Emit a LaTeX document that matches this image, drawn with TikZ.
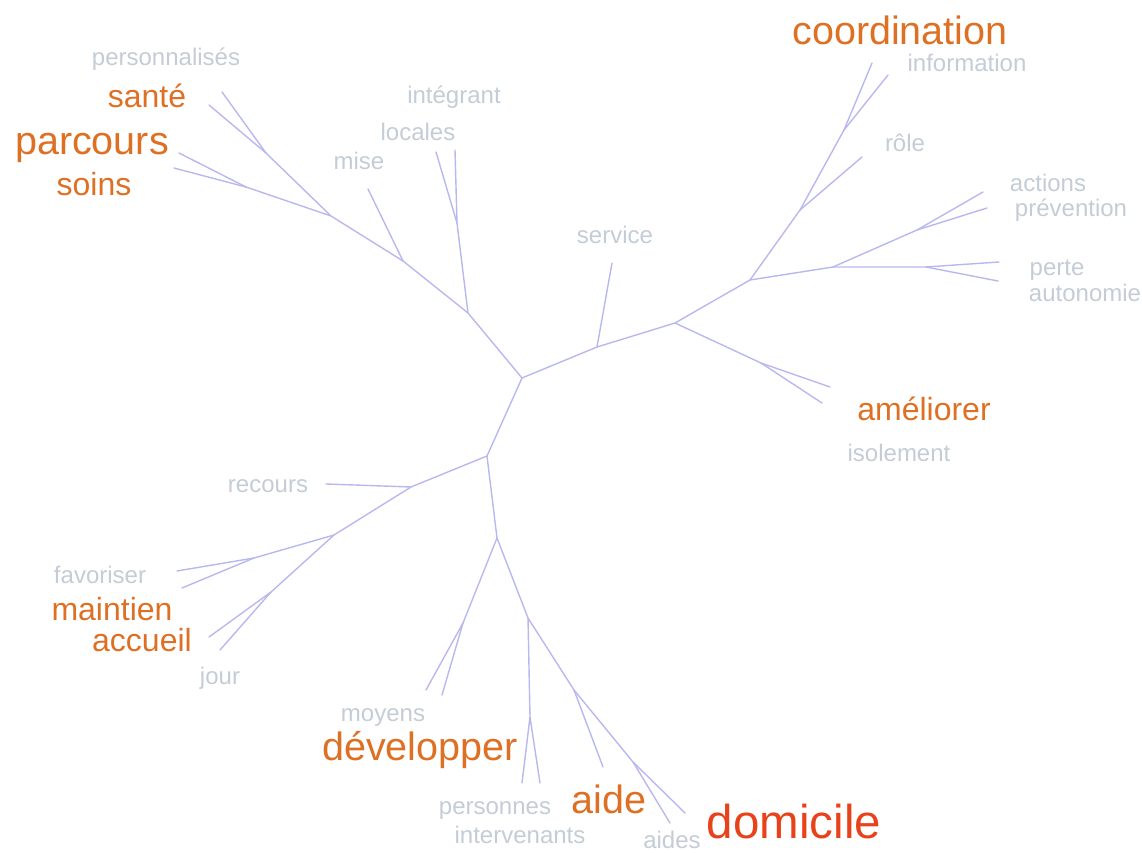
\documentclass[tikz,border=0pt]{standalone}
\usepackage{fontspec}
\setmainfont{Liberation Sans}
\definecolor{branch}{RGB}{184,184,240}
\definecolor{minor}{RGB}{196,204,214}
\definecolor{major}{RGB}{222,112,36}
\definecolor{top}{RGB}{232,66,26}
\tikzset{
  edge/.style={draw=branch, line width=1.4pt, line cap=round, line join=round},
  minorw/.style={text=minor, anchor=base, inner sep=0pt, font=\fontsize{24}{24}\selectfont},
  majorm/.style={text=major, anchor=base, inner sep=0pt, font=\fontsize{32}{32}\selectfont},
  majorl/.style={text=major, anchor=base, inner sep=0pt, font=\fontsize{39.5}{39.5}\selectfont},
  topw/.style={text=top, anchor=base, inner sep=0pt, font=\fontsize{47.5}{47.5}\selectfont}
}
\begin{document}
\begin{tikzpicture}[x=1pt,y=-1pt]
\useasboundingbox (0,0) rectangle (1142,853);
% junctions and branch ends
\coordinate (A) at (522,378);
\coordinate (B) at (468,313);
\coordinate (C) at (403,261);
\coordinate (D) at (331,216);
\coordinate (E) at (266,153);
\coordinate (e1) at (222,92);
\coordinate (e2) at (209,105);
\coordinate (F) at (246,187);
\coordinate (f1) at (179,153);
\coordinate (f2) at (174,168);
\coordinate (c1) at (368,189);
\coordinate (G) at (457,223);
\coordinate (g1) at (455,150);
\coordinate (g2) at (436,152);
\coordinate (H) at (597,347);
\coordinate (h1) at (612,263);
\coordinate (I) at (675,323);
\coordinate (Iam) at (761,363);
\coordinate (am1) at (830,387);
\coordinate (am2) at (822,403);
\coordinate (J) at (750,280);
\coordinate (K) at (800,210);
\coordinate (k1) at (862,157);
\coordinate (L) at (844,130);
\coordinate (l1) at (872,63);
\coordinate (l2) at (888,75);
\coordinate (M) at (833,267);
\coordinate (N) at (917,230);
\coordinate (n1) at (983,192);
\coordinate (n2) at (987,208);
\coordinate (O) at (926,267);
\coordinate (o1) at (999,262);
\coordinate (o2) at (998,281);
\coordinate (P) at (487,456);
\coordinate (Q) at (411,487);
\coordinate (q1) at (326,484);
\coordinate (R) at (334,535);
\coordinate (R1) at (254,558);
\coordinate (r1) at (177,571);
\coordinate (r2) at (182,588);
\coordinate (R2) at (271,592);
\coordinate (r3) at (209,637);
\coordinate (r4) at (220,650);
\coordinate (S) at (497,538);
\coordinate (S1) at (463,623);
\coordinate (s1) at (426,690);
\coordinate (s2) at (442,695);
\coordinate (T) at (528,618);
\coordinate (T1) at (530,717);
\coordinate (t1) at (522,783);
\coordinate (t2) at (540,783);
\coordinate (U) at (574,690);
\coordinate (u1) at (603,767);
\coordinate (V) at (633,762);
\coordinate (v1) at (670,823);
\coordinate (v2) at (685,813);
% edges
\draw[edge] (A) -- (B) -- (C) -- (D) -- (E) -- (e1);
\draw[edge] (E) -- (e2);
\draw[edge] (D) -- (F) -- (f1);
\draw[edge] (F) -- (f2);
\draw[edge] (C) -- (c1);
\draw[edge] (B) -- (G) -- (g1);
\draw[edge] (G) -- (g2);
\draw[edge] (A) -- (H) -- (I) -- (J) -- (K) -- (L) -- (l1);
\draw[edge] (H) -- (h1);
\draw[edge] (L) -- (l2);
\draw[edge] (K) -- (k1);
\draw[edge] (I) -- (Iam) -- (am1);
\draw[edge] (Iam) -- (am2);
\draw[edge] (J) -- (M) -- (N) -- (n1);
\draw[edge] (N) -- (n2);
\draw[edge] (M) -- (O) -- (o1);
\draw[edge] (O) -- (o2);
\draw[edge] (A) -- (P) -- (Q) -- (q1);
\draw[edge] (Q) -- (R) -- (R1) -- (r1);
\draw[edge] (R1) -- (r2);
\draw[edge] (R) -- (R2) -- (r3);
\draw[edge] (R2) -- (r4);
\draw[edge] (P) -- (S) -- (S1) -- (s1);
\draw[edge] (S1) -- (s2);
\draw[edge] (S) -- (T) -- (T1) -- (t1);
\draw[edge] (T1) -- (t2);
\draw[edge] (T) -- (U) -- (u1);
\draw[edge] (U) -- (V) -- (v1);
\draw[edge] (V) -- (v2);
% labels
\node[minorw] (personnalises) at (166,66) {personnalisés};
\node[majorm] (sante) at (147,108) {santé};
\node[majorl] (parcours) at (92,155) {parcours};
\node[majorm] (soins) at (94,196) {soins};
\node[minorw] (integrant) at (454,104) {intégrant};
\node[minorw] (locales) at (418,141) {locales};
\node[minorw] (mise) at (359,170) {mise};
\node[minorw] (service) at (615,243) {service};
\node[majorl] (coordination) at (900,45) {coordination};
\node[minorw] (information) at (967,72) {information};
\node[minorw] (role) at (905,152) {rôle};
\node[minorw] (actions) at (1048,192) {actions};
\node[minorw] (prevention) at (1071,216) {prévention};
\node[minorw] (perte) at (1057,275) {perte};
\node[minorw] (autonomie) at (1085,301) {autonomie};
\node[majorm] (ameliorer) at (924,420) {améliorer};
\node[minorw] (isolement) at (899,461) {isolement};
\node[minorw] (recours) at (268,492) {recours};
\node[minorw] (favoriser) at (100,583) {favoriser};
\node[majorm] (maintien) at (112,620) {maintien};
\node[majorm] (accueil) at (142,651) {accueil};
\node[minorw] (jour) at (220,684) {jour};
\node[minorw] (moyens) at (383,721) {moyens};
\node[majorl] (developper) at (420,760) {développer};
\node[minorw] (personnes) at (495,814) {personnes};
\node[minorw] (intervenants) at (520,843) {intervenants};
\node[majorl] (aide) at (609,813) {aide};
\node[minorw] (aides) at (672,848) {aides};
\node[topw] (domicile) at (794,838) {domicile};
\end{tikzpicture}
\end{document}
